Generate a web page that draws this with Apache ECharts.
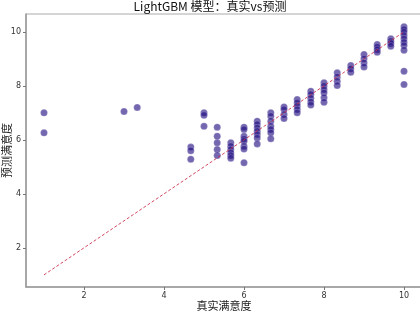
<!DOCTYPE html>
<html>
<head>
<meta charset="utf-8">
<script src="https://cdn.jsdelivr.net/npm/echarts@6/dist/echarts.min.js"></script>
<style>html,body{margin:0;padding:0;background:#fff;}#c{width:420px;height:313px;}</style>
</head>
<body>
<div id="c"></div>
<script>
const titleText = 'LightGBM 模型：真实vs预测';
const xName = '真实满意度';
const yName = '预测满意度';
const tickValues = [2, 4, 6, 8, 10];
const trueSat = [
  1, 1,
  3.0, 3.33,
  4.67, 4.67, 4.67,
  5, 5, 5,
  5.33, 5.33, 5.33, 5.33, 5.33,
  5.67, 5.67, 5.67, 5.67, 5.67, 5.67,
  6, 6, 6, 6, 6, 6, 6, 6,
  6.33, 6.33, 6.33, 6.33, 6.33, 6.33, 6.33,
  6.67, 6.67, 6.67, 6.67, 6.67, 6.67, 6.67,
  7, 7, 7, 7,
  7.33, 7.33, 7.33, 7.33, 7.33,
  7.67, 7.67, 7.67, 7.67, 7.67,
  8, 8, 8, 8, 8, 8,
  8.33, 8.33, 8.33, 8.33,
  8.67, 8.67, 8.67,
  9, 9, 9, 9,
  9.33, 9.33, 9.33, 9.33,
  9.67, 9.67, 9.67, 9.67,
  10, 10, 10, 10, 10, 10, 10, 10, 10, 10
];
const predSat = [
  7.0, 6.26,
  7.05, 7.2,
  5.73, 5.6, 5.28,
  7.0, 6.91, 6.5,
  6.47, 6.13, 5.89, 5.64, 5.42,
  5.89, 5.76, 5.64, 5.52, 5.42, 5.32,
  6.47, 6.38, 6.13, 6.03, 5.95, 5.76, 5.66, 5.15,
  6.69, 6.57, 6.44, 6.32, 6.2, 6.07, 5.85,
  7.0, 6.87, 6.69, 6.5, 6.38, 6.26, 6.04,
  7.22, 7.12, 6.94, 6.79,
  7.49, 7.37, 7.25, 7.12, 7.0,
  7.8, 7.68, 7.54, 7.4, 7.29,
  8.11, 7.99, 7.86, 7.74, 7.56, 7.39,
  8.48, 8.33, 8.17, 8.01,
  8.75, 8.63, 8.5,
  9.16, 9.0, 8.85, 8.7,
  9.53, 9.44, 9.34, 9.24,
  9.74, 9.65, 9.57, 9.47,
  10.19, 10.09, 9.99, 9.86, 9.74, 9.61, 9.49, 9.32, 8.54, 8.05
];
const refLine = [[1, 1], [10, 10]];

const points = trueSat.map((x, i) => [x, predSat[i]]);
const chart = echarts.init(document.getElementById('c'), null, {renderer: 'canvas'});
const axisCommon = {
  axisLine: {show: true, lineStyle: {color: '#999', width: 1.5}},
  axisTick: {show: true, length: 3, lineStyle: {color: '#777'}, customValues: tickValues},
  axisLabel: {fontSize: 8, color: '#333', customValues: tickValues, fontFamily: 'DejaVu Sans'},
  splitLine: {show: false},
  nameLocation: 'middle',
  nameMoveOverlap: false,
  nameTextStyle: {fontSize: 11, color: '#222', fontFamily: 'Noto Sans CJK SC'}
};
chart.setOption({
  backgroundColor: '#fff',
  animation: false,
  title: {
    text: titleText, left: 'center', top: 0, padding: [0, 0, 0, 0],
    textStyle: {fontSize: 12, fontWeight: 'normal', color: '#111', fontFamily: 'Noto Sans CJK SC'}
  },
  grid: {left: 26, top: 14, width: 396, height: 273, show: true, borderColor: '#aaa', borderWidth: 1,
         containLabel: false, outerBoundsMode: 'none'},
  xAxis: Object.assign({}, axisCommon, {
    type: 'value', min: 0.55, max: 10.45, name: xName, nameGap: 13,
    axisLabel: Object.assign({}, axisCommon.axisLabel, {margin: 5})
  }),
  yAxis: Object.assign({}, axisCommon, {
    type: 'value', min: 0.55, max: 10.66, name: yName, nameGap: 14,
    axisLabel: Object.assign({}, axisCommon.axisLabel, {margin: 5})
  }),
  series: [
    {
      type: 'scatter', data: points, symbolSize: 7, z: 2,
      itemStyle: {color: 'rgba(32,12,128,0.78)', borderColor: 'rgba(255,255,255,0.5)', borderWidth: 0.5}
    },
    {
      type: 'line', data: refLine, symbol: 'none', z: 3,
      lineStyle: {color: 'rgba(200,40,70,0.85)', width: 1, type: [3, 2]}
    }
  ]
});
</script>
</body>
</html>
